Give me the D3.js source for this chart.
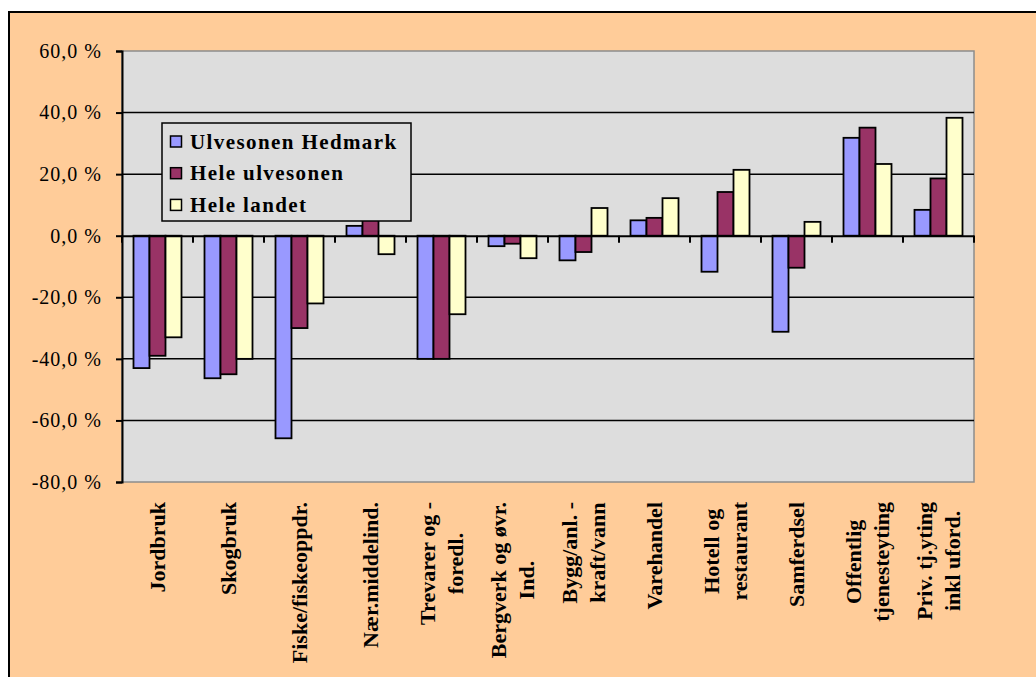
<!DOCTYPE html>
<html>
<head>
<meta charset="utf-8">
<script src="https://cdn.jsdelivr.net/npm/d3@7"></script>
<style>
body { margin: 0; background: #fff; }
svg text { font-family: "Liberation Serif", "Times New Roman", serif; }
</style>
</head>
<body>
<svg id="chart" width="1036" height="677"></svg>
<script>

/////// Data ///////

var categories = ["Jordbruk", "Skogbruk", "Fiske/fiskeoppdr.", "Nær.middelind.", "Trevarer og -|foredl.",
    "Bergverk og øvr.|Ind.", "Bygg/anl. -|kraft/vann", "Varehandel", "Hotell og|restaurant",
    "Samferdsel", "Offentlig|tjenesteyting", "Priv. tj.yting|inkl uford."];
var seriesNames = ["Ulvesonen Hedmark", "Hele ulvesonen", "Hele landet"];
var ulvesonenHedmark = [-43, -46.3, -65.8, 3.2, -40, -3.4, -8, 5, -11.7, -31.2, 31.8, 8.4];
var heleUlvesonen = [-39, -45, -30, 5.3, -40, -2.6, -5.3, 5.8, 14.2, -10.4, 35.1, 18.6];
var heleLandet = [-33, -40, -22, -6, -25.5, -7.3, 9, 12.2, 21.4, 4.5, 23.3, 38.3];
var yTicks = [60, 40, 20, 0, -20, -40, -60, -80];
var colors = ["#9999ff", "#993366", "#ffffcc"];

var allSeries = [ulvesonenHedmark, heleUlvesonen, heleLandet];

/////// Frame ///////

var svg = d3.select("#chart");

svg.append("rect")
    .attr("x", 9).attr("y", 12)
    .attr("width", 1040).attr("height", 680)
    .attr("fill", "#ffcc99")
    .attr("stroke", "#000")
    .attr("stroke-width", 2);

var plot = {left: 122, right: 974, top: 51, bottom: 482};

var x = d3.scaleBand().domain(d3.range(categories.length)).range([plot.left, plot.right]);
var xs = d3.scaleBand().domain(d3.range(3)).range([11.5, x.bandwidth() - 11.5]);
var y = d3.scaleLinear().domain([-80, 60]).range([plot.bottom, plot.top]);

// plot background
svg.append("rect")
    .attr("x", plot.left).attr("y", plot.top)
    .attr("width", plot.right - plot.left).attr("height", plot.bottom - plot.top)
    .attr("fill", "#dddddd")
    .attr("stroke", "#8c8c8c")
    .attr("stroke-width", 1.5);

// gridlines
svg.append("g").selectAll("line")
    .data(yTicks.filter(function(d) { return d != 60 && d != -80 && d != 0; }))
    .enter().append("line")
    .attr("x1", plot.left).attr("x2", plot.right)
    .attr("y1", function(d) { return y(d); })
    .attr("y2", function(d) { return y(d); })
    .attr("stroke", "#000")
    .attr("stroke-width", 1.5);

// y axis
var yAxis = d3.axisLeft(y)
    .tickValues(yTicks)
    .tickSize(6)
    .tickPadding(14)
    .tickFormat(function(d) { return d3.format(".1f")(d).replace(".", ",").replace("−", "-") + " %"; });

var gy = svg.append("g")
    .attr("transform", "translate(" + plot.left + ",0)")
    .call(yAxis);
gy.select(".domain").attr("stroke", "#000").attr("stroke-width", 2);
gy.selectAll(".tick line").attr("stroke", "#000").attr("stroke-width", 2);
gy.selectAll(".tick text")
    .attr("font-size", 20)
    .attr("letter-spacing", "1px")
    .attr("fill", "#000");

/////// Bars ///////

var groups = svg.append("g").selectAll("g")
    .data(allSeries)
    .enter().append("g")
    .attr("fill", function(d, i) { return colors[i]; });

groups.each(function(s, si) {
    d3.select(this).selectAll("rect")
        .data(s)
        .enter().append("rect")
        .attr("x", function(d, i) { return x(i) + xs(si); })
        .attr("width", xs.bandwidth())
        .attr("y", function(d) { return y(Math.max(0, d)); })
        .attr("height", function(d) { return Math.abs(y(d) - y(0)); })
        .attr("stroke", "#000")
        .attr("stroke-width", 1.8);
});

// zero axis with ticks at category boundaries
var xAxis = d3.axisBottom(x).tickSize(0).tickFormat("");
var gx = svg.append("g")
    .attr("transform", "translate(0," + y(0) + ")")
    .call(xAxis);
gx.select(".domain").attr("stroke", "#000").attr("stroke-width", 2);
gx.selectAll(".bound")
    .data(d3.range(categories.length + 1))
    .enter().append("line")
    .attr("class", "bound")
    .attr("x1", function(d) { return plot.left + d * x.bandwidth(); })
    .attr("x2", function(d) { return plot.left + d * x.bandwidth(); })
    .attr("y1", 0).attr("y2", 7)
    .attr("stroke", "#000")
    .attr("stroke-width", 2);

/////// Category labels ///////

var labelTop = 502;
var lineGap = 28;

categories.forEach(function(c, i) {
    var lines = c.split("|");
    var cx = x(i) + x.bandwidth() / 2;
    var g = svg.append("g");
    var texts = lines.map(function(l, li) {
        var lx = cx + (li - (lines.length - 1) / 2) * lineGap;
        return g.append("text")
            .attr("text-anchor", "middle")
            .attr("font-weight", "bold")
            .attr("font-size", 22)
            .attr("dy", "0.35em")
            .attr("data-x", lx)
            .text(l);
    });
    var maxLen = d3.max(texts, function(t) { return t.node().getComputedTextLength(); });
    var cy = labelTop + maxLen / 2;
    texts.forEach(function(t) {
        var lx = +t.attr("data-x");
        t.attr("transform", "translate(" + lx + "," + cy + ") rotate(-90)");
    });
});

/////// Legend ///////

var legend = svg.append("g").attr("transform", "translate(162,123)");
legend.append("rect")
    .attr("width", 249).attr("height", 98)
    .attr("fill", "#dddddd")
    .attr("stroke", "#000")
    .attr("stroke-width", 1.5);

var items = legend.selectAll(".item")
    .data(seriesNames)
    .enter().append("g")
    .attr("class", "item")
    .attr("transform", function(d, i) { return "translate(0," + (18.5 + i * 31.7) + ")"; });

items.append("rect")
    .attr("x", 8.5).attr("y", -5.5)
    .attr("width", 11).attr("height", 11)
    .attr("fill", function(d, i) { return colors[i]; })
    .attr("stroke", "#000")
    .attr("stroke-width", 1.5);

items.append("text")
    .attr("x", 28)
    .attr("y", 7)
    .attr("font-weight", "bold")
    .attr("font-size", 21)
    .attr("letter-spacing", "1.4px")
    .text(function(d) { return d; });

</script>
</body>
</html>
